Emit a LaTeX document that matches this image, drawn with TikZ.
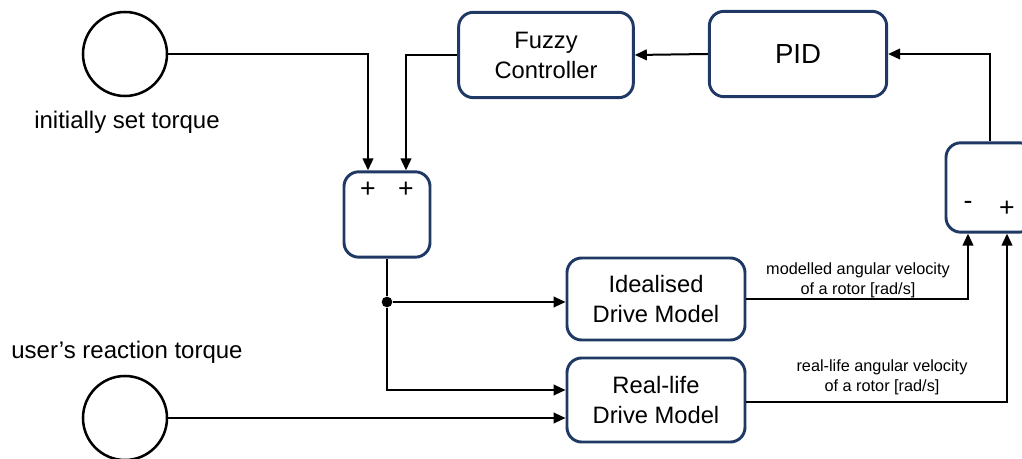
\documentclass[tikz,border=0pt]{standalone}
\usepackage{fontspec}
\setmainfont{Liberation Sans}
\usetikzlibrary{arrows.meta}

\definecolor{boxblue}{HTML}{1F3864}

\begin{document}
\begin{tikzpicture}[x=0.75pt, y=-0.75pt,
    blk/.style = {draw=boxblue, line width=2.2pt, rounded corners=11pt, align=center,
                  font=\fontsize{17.8}{22.5}\selectfont, inner sep=0pt},
    src/.style = {draw, circle, line width=1.9pt, minimum size=63pt, inner sep=0pt},
    lbl/.style = {font=\fontsize{18}{22}\selectfont, inner sep=0pt},
    small/.style = {align=center, font=\fontsize{12.2}{15}\selectfont, inner sep=0pt},
    sgn/.style = {font=\fontsize{20}{22}\selectfont, inner sep=0pt},
    arr/.style = {line width=1.5pt, -{Triangle[length=9pt, width=8pt]}},
    ln/.style = {line width=1.5pt},
    dot/.style = {circle, fill, minimum size=8pt, inner sep=0pt}]
  \useasboundingbox (0, 0) rectangle (1022, 459);

  % sources
  \node[src] (set) at (125, 54) {};
  \node[lbl] (setlbl) at (127, 122) {initially set torque};
  \node[src] (user) at (125, 418) {};
  \node[lbl] (userlbl) at (127, 352) {user’s reaction torque};

  % blocks
  \node[blk, minimum width=131pt, minimum height=64pt] (fuzzy) at (546, 55) {Fuzzy\\Controller};
  \node[blk, minimum width=133pt, minimum height=64pt, font=\fontsize{20.7}{24}\selectfont] (pid) at (798, 54) {PID};
  \node[blk, minimum width=64.5pt, minimum height=64pt] (sum) at (387, 214.5) {};
  \node[blk, minimum width=133.5pt, minimum height=61.5pt] (ideal) at (656, 299) {Idealised\\Drive Model};
  \node[blk, minimum width=133.5pt, minimum height=63pt] (real) at (656, 400) {Real-life\\Drive Model};
  \node[blk, minimum width=66pt, minimum height=67pt] (cmp) at (990, 187.5) {};

  % signs
  \node[sgn] (plusA) at (368, 190) {+};
  \node[sgn] (plusB) at (406, 190) {+};
  \node[sgn] (minus) at (968, 205) {-};
  \node[sgn] (plusC) at (1007, 209) {+};

  % signal labels
  \node[small] (modlbl) at (858, 280) {modelled angular velocity\\of a rotor [rad/s]};
  \node[small] (reallbl) at (882, 377) {real-life angular velocity\\of a rotor [rad/s]};

  % connections
  \draw[arr] (set.east) -| (plusA |- sum.north);
  \draw[arr] (fuzzy.west) -| (plusB |- sum.north);
  \draw[arr] (pid.west) -- (fuzzy.east);
  \draw[arr] (cmp.north) |- (pid.east);

  \node[dot] (split) at (387, 302) {};
  \draw[ln] (sum.south) -- (split);
  \draw[arr] (split) -- (split -| ideal.west);
  \draw[arr] (split) |- ([yshift=7.5pt]real.west);
  \draw[arr] (user.east) -- (user.east -| real.west);

  \draw[arr] (ideal.east) -| (minus |- cmp.south);
  \draw[arr] ([yshift=-1.5pt]real.east) -| (plusC |- cmp.south);
\end{tikzpicture}
\end{document}
